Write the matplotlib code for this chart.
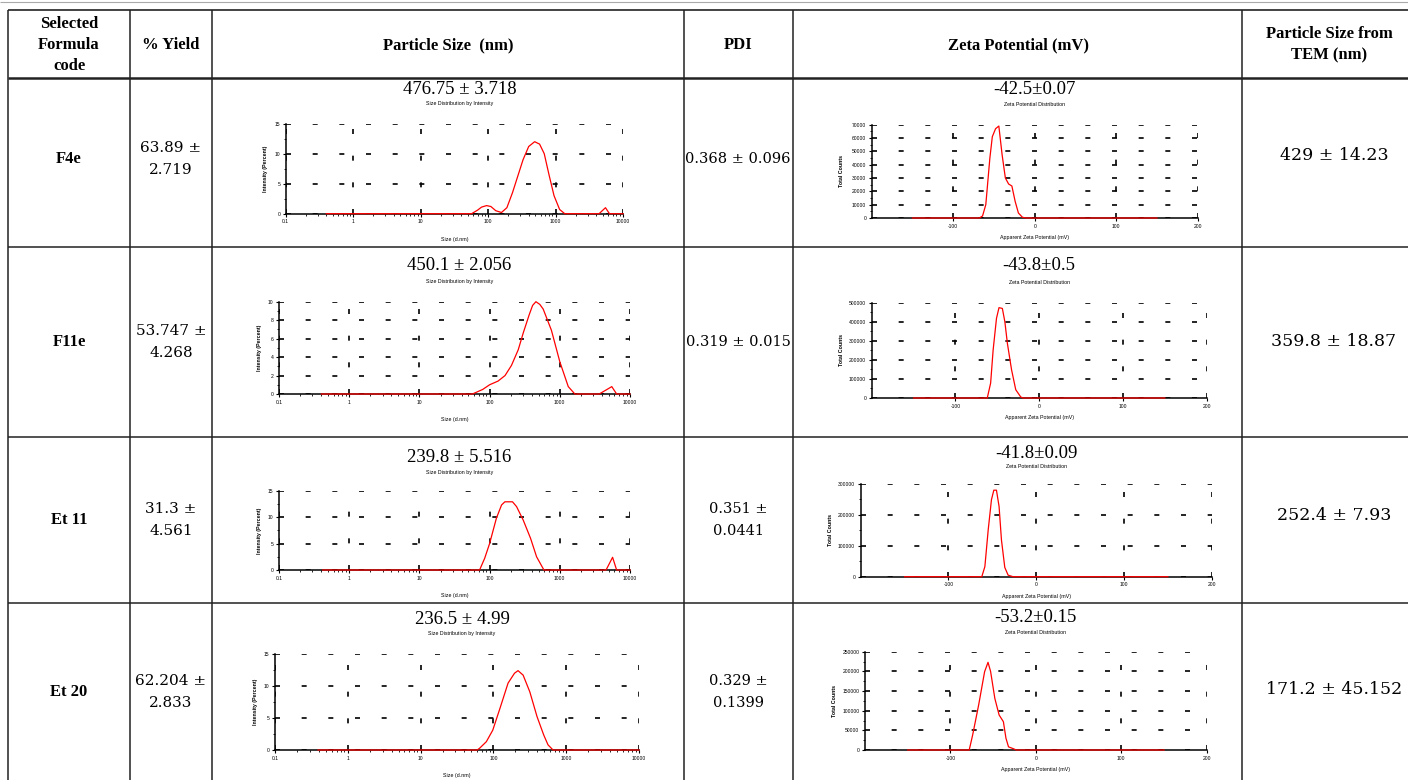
import matplotlib
matplotlib.use('Agg')
import matplotlib.pyplot as plt
from matplotlib.lines import Line2D
from matplotlib.ticker import FixedLocator, FixedFormatter, NullFormatter, LogLocator, MultipleLocator

W, H = 1408, 780

# ---------------- data ----------------
headers = ['Selected\nFormula\ncode', '% Yield', 'Particle Size  (nm)', 'PDI',
           'Zeta Potential (mV)', 'Particle Size from\nTEM (nm)']
codes = ['F4e', 'F11e', 'Et 11', 'Et 20']
yields = ['63.89 ±\n2.719', '53.747 ±\n4.268', '31.3 ±\n4.561', '62.204 ±\n2.833']
pdis = ['0.368 ± 0.096', '0.319 ± 0.015', '0.351 ±\n0.0441', '0.329 ±\n0.1399']
tem_sizes = ['429 ± 14.23', '359.8 ± 18.87', '252.4 ± 7.93', '171.2 ± 45.152']
size_titles = ['476.75 ± 3.718', '450.1 ± 2.056', '239.8 ± 5.516', '236.5 ± 4.99']
zeta_titles = ['-42.5±0.07', '-43.8±0.5', '-41.8±0.09', '-53.2±0.15']

# size distribution by intensity (d.nm, %)
f4e_size_nm = [0.4, 57, 70, 80, 95, 110, 130, 158, 190, 230, 280, 330, 400, 490, 580, 680,
               800, 950, 1150, 1370, 4420, 5500, 6300, 10000]
f4e_size_int = [0, 0, 0.6, 1.1, 1.35, 1.2, 0.5, 0.2, 1.0, 3.5, 6.5, 9.0, 11.2, 12.0, 11.6, 10.0,
                6.5, 3.0, 0.7, 0, 0, 1.0, 0, 0]
f11e_size_nm = [0.4, 57, 80, 100, 132, 166, 205, 256, 301, 367, 410, 457, 520, 580, 760, 1000,
                1320, 1640, 3650, 5500, 6450, 10000]
f11e_size_int = [0, 0, 0.5, 1.0, 1.4, 2.0, 3.1, 4.8, 6.6, 8.6, 9.6, 10.0, 9.7, 9.2, 6.9, 3.5,
                 0.8, 0, 0, 0.8, 0, 0]
et11_size_nm = [0.42, 72, 85, 100, 125, 148, 165, 212, 242, 301, 383, 467, 594, 4560, 5650,
                6450, 10000]
et11_size_int = [0, 0, 2.2, 5.0, 9.8, 12.3, 12.9, 12.9, 12.0, 9.45, 6.0, 2.5, 0, 0, 2.4, 0, 0]
et20_size_nm = [0.39, 60, 65, 80, 98, 123, 159, 195, 218, 256, 316, 398, 491, 563, 660, 10000]
et20_size_int = [0, 0, 0.3, 1.3, 3.1, 6.5, 10.45, 12.0, 12.4, 11.7, 9.1, 5.2, 2.35, 0.8, 0, 0]

# zeta potential distribution (mV, total counts)
f4e_zeta_mv = [-150, -68, -64, -60, -55, -52, -48, -44, -40, -36, -32, -28, -24, -20, -15, -10, 150]
f4e_zeta_cnt = [0, 0, 1500, 10000, 45000, 61000, 67000, 69000, 47500, 30000, 25500, 24000,
                12500, 3750, 500, 0, 0]
f11e_zeta_mv = [-150, -62, -58, -55, -51, -48, -44, -41, -38, -33, -28, -22, -19, 150]
f11e_zeta_cnt = [0, 0, 78000, 252000, 418000, 474000, 470000, 400000, 287000, 148000, 43500,
                 5000, 0, 0]
et11_zeta_mv = [-150, -62, -58.5, -54.7, -51, -48.3, -45.3, -42.3, -39.6, -35.8, -32, -26.4, 150]
et11_zeta_cnt = [0, 0, 32500, 151600, 249000, 280000, 280000, 227000, 119000, 30000, 5000, 0, 0]
et20_zeta_mv = [-150, -78, -74, -67, -60, -56, -53, -48, -43, -38, -35, -32, -26, -23, 150]
et20_zeta_cnt = [0, 0, 38000, 114000, 199000, 223000, 200000, 131000, 89000, 72000, 30000,
                 8000, 3000, 0, 0]

size_series = [(f4e_size_nm, f4e_size_int), (f11e_size_nm, f11e_size_int),
               (et11_size_nm, et11_size_int), (et20_size_nm, et20_size_int)]
zeta_series = [(f4e_zeta_mv, f4e_zeta_cnt), (f11e_zeta_mv, f11e_zeta_cnt),
               (et11_zeta_mv, et11_zeta_cnt), (et20_zeta_mv, et20_zeta_cnt)]
size_ymax = [15, 10, 15, 15]
size_ystep = [5, 2, 5, 5]
zeta_ymax = [70000, 500000, 300000, 250000]
zeta_ystep = [10000, 100000, 100000, 50000]
size_ticks = [0.1, 1, 10, 100, 1000, 10000]
size_ticklabels = ['0.1', '1', '10', '100', '1000', '10000']
zeta_ticks = [-100, 0, 100, 200]
zeta_ticklabels = ['-100', '0', '100', '200']

# ---------------- layout (pixels) ----------------
col_x = [8, 130, 212, 684, 793, 1242]
row_y = [10, 78, 247, 437, 603]
row_text_y = [159, 342, 520, 692]
tem_text_y = [156, 341, 515, 690]
size_boxes = [(285.7, 623, 123.7, 213.7), (279, 630, 301.7, 394),
              (279, 630, 490.7, 570), (275, 639, 654, 750)]
zeta_boxes = [(871.7, 1197.7, 124.7, 218), (871.7, 1206.7, 302.7, 398),
              (860.7, 1211.7, 484, 576.7), (865, 1206.7, 651.7, 750)]
size_title_y = [(90, 104), (265, 281), (458, 473), (620, 633)]
zeta_title_y = [(90, 105), (265, 282), (453, 467), (618, 632)]

SERIF = 'Liberation Serif'
SANS = 'Liberation Sans'

fig = plt.figure(figsize=(W / 100, H / 100), dpi=100)
fig.patch.set_facecolor('white')


def fx(x):
    return x / W


def fy(y):
    return 1 - y / H


def ftext(x, y, s, **kw):
    kw.setdefault('ha', 'center')
    kw.setdefault('va', 'center')
    fig.text(fx(x), fy(y), s, **kw)


def fline(x0, y0, x1, y1, lw=1.1, color='#222222'):
    fig.add_artist(Line2D([fx(x0), fx(x1)], [fy(y0), fy(y1)], transform=fig.transFigure,
                          color=color, lw=lw, solid_capstyle='butt'))


# table lines
fline(0, 2, W, 2, lw=0.8, color='#aaaaaa')
fline(col_x[0], row_y[0], W, row_y[0], lw=1.2)
fline(col_x[0], row_y[1], W, row_y[1], lw=1.8)
for y in row_y[2:]:
    fline(col_x[0], y, W, y, lw=1.1)
for x in col_x:
    fline(x, row_y[0], x, H, lw=1.1)

# headers
head_x = [69, 171, 448, 738, 1018, 1329]
for hx, h in zip(head_x, headers):
    ftext(hx, 45, h, family=SERIF, fontsize=12, fontweight='bold', linespacing=1.45)

# table body text
for i in range(4):
    ftext(69, row_text_y[i], codes[i], family=SERIF, fontsize=12, fontweight='bold')
    ftext(171, row_text_y[i], yields[i], family='DejaVu Serif', fontsize=11, linespacing=1.7)
    ftext(738, row_text_y[i], pdis[i], family='DejaVu Serif', fontsize=10.5, linespacing=1.75)
    ftext(1334, tem_text_y[i], tem_sizes[i], family='DejaVu Serif', fontsize=12.5)

GRID_KW = dict(color='k', linewidth=1.2, linestyle=(0, (3, 13)))
TICK_FS = 3.6
LABEL_FS = 3.8


def style_axes(ax):
    for s in ['top', 'right']:
        ax.spines[s].set_visible(False)
    for s in ['left', 'bottom']:
        ax.spines[s].set_linewidth(1.1)
        ax.spines[s].set_color('black')
        ax.spines[s].set_zorder(1)
    ax.tick_params(which='major', length=2.5, width=0.8, labelsize=TICK_FS, pad=1.5)
    ax.tick_params(which='minor', length=1.5, width=0.6)
    ax.set_facecolor('none')


for i in range(4):
    # ---- particle size chart ----
    l, r, t, b = size_boxes[i]
    ax = fig.add_axes([fx(l), fy(b), fx(r) - fx(l), fy(t) - fy(b)])
    xs, ys = size_series[i]
    ax.plot(xs, ys, color='red', lw=0.9, zorder=3, clip_on=False)
    ax.set_xscale('log')
    ax.set_xlim(0.1, 10000)
    ax.set_ylim(0, size_ymax[i])
    ax.xaxis.set_major_locator(FixedLocator(size_ticks))
    ax.xaxis.set_major_formatter(FixedFormatter(size_ticklabels))
    ax.xaxis.set_minor_locator(LogLocator(base=10, subs=range(2, 10)))
    ax.xaxis.set_minor_formatter(NullFormatter())
    ax.yaxis.set_major_locator(MultipleLocator(size_ystep[i]))
    ax.yaxis.set_minor_locator(MultipleLocator(size_ystep[i] / 2))
    ax.grid(True, which='major', **GRID_KW)
    style_axes(ax)
    for lab in ax.get_xticklabels() + ax.get_yticklabels():
        lab.set_family(SANS)
    ax.text(0.5, -(26 / (b - t)), 'Size (d.nm)', transform=ax.transAxes, ha='center',
            va='center', fontsize=LABEL_FS, family=SANS)
    ax.text(-(20 / (r - l)), 0.5, 'Intensity (Percent)', transform=ax.transAxes, ha='center',
            va='center', rotation=90, fontsize=LABEL_FS, family=SANS, fontweight='bold')
    ftext((l + r) / 2 + 5, size_title_y[i][0], size_titles[i], family=SERIF, fontsize=13.5)
    ftext((l + r) / 2 + 5, size_title_y[i][1], 'Size Distribution by Intensity', family=SANS,
          fontsize=LABEL_FS)

    # ---- zeta potential chart ----
    l, r, t, b = zeta_boxes[i]
    ax = fig.add_axes([fx(l), fy(b), fx(r) - fx(l), fy(t) - fy(b)])
    xs, ys = zeta_series[i]
    ax.plot(xs, ys, color='red', lw=0.9, zorder=3, clip_on=False)
    ax.set_xlim(-200, 200)
    ax.set_ylim(0, zeta_ymax[i])
    ax.xaxis.set_major_locator(FixedLocator(zeta_ticks))
    ax.xaxis.set_major_formatter(FixedFormatter(zeta_ticklabels))
    ax.yaxis.set_major_locator(MultipleLocator(zeta_ystep[i]))
    ax.yaxis.set_minor_locator(MultipleLocator(zeta_ystep[i] / 2))
    ax.yaxis.set_major_formatter(matplotlib.ticker.FuncFormatter(lambda v, p: '%d' % v))
    ax.grid(True, which='major', **GRID_KW)
    style_axes(ax)
    for lab in ax.get_xticklabels() + ax.get_yticklabels():
        lab.set_family(SANS)
    ax.text(0.5, -(20 / (b - t)), 'Apparent Zeta Potential (mV)', transform=ax.transAxes,
            ha='center', va='center', fontsize=LABEL_FS, family=SANS)
    ax.text(-(30 / (r - l)), 0.5, 'Total Counts', transform=ax.transAxes, ha='center',
            va='center', rotation=90, fontsize=LABEL_FS, family=SANS, fontweight='bold')
    ftext((l + r) / 2, zeta_title_y[i][0], zeta_titles[i], family=SERIF, fontsize=13.5)
    ftext((l + r) / 2, zeta_title_y[i][1], 'Zeta Potential Distribution', family=SANS,
          fontsize=LABEL_FS)

fig.savefig('out.png', dpi=100, facecolor='white')
